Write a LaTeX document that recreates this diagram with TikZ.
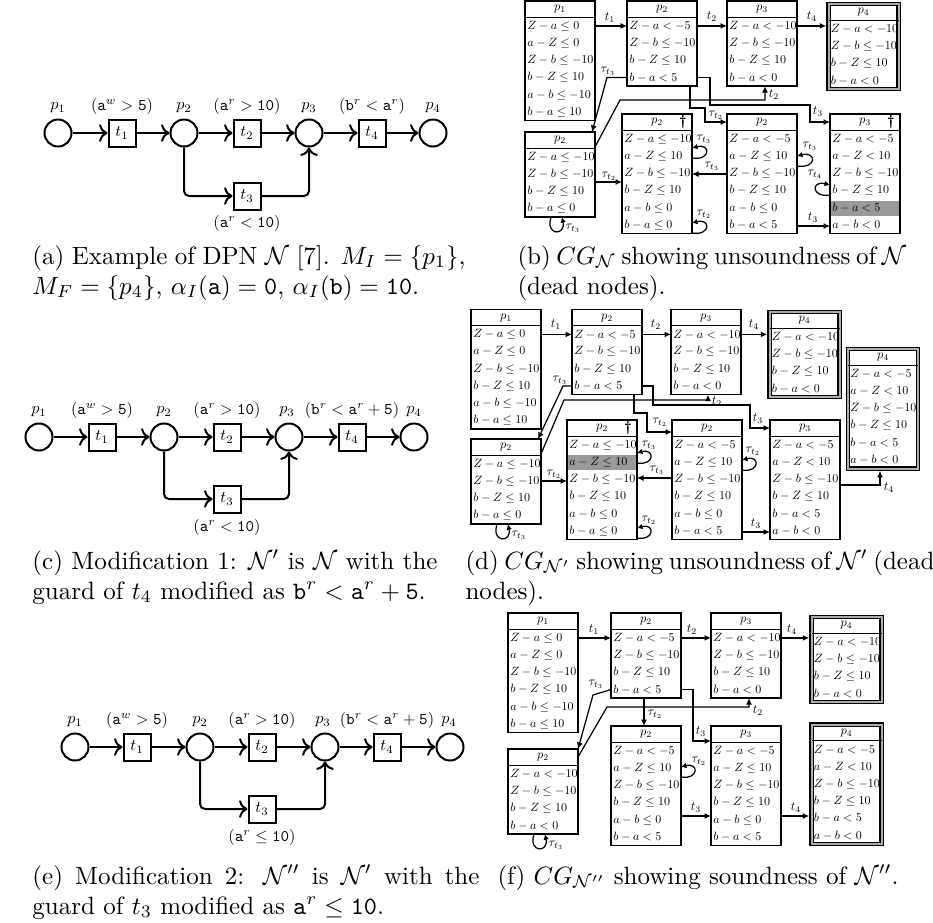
\documentclass[tikz,border=0pt]{standalone}
\usepackage{graphicx}
\usetikzlibrary{arrows.meta,calc,backgrounds}
\newcommand{\rs}[1]{\scalebox{0.48}{#1}}
\newcommand{\ts}[1]{\scalebox{0.5}{#1}}
\newcommand{\ps}[1]{\scalebox{0.65}{#1}}
\newcommand{\capfont}{\fontsize{10}{12}\selectfont}
\newcommand{\captwo}[3]{\parbox[t]{#1}{\makebox[#1][s]{#2}\\#3}}
\tikzset{
  cgframe/.style={draw, line width=0.5pt, anchor=north west, inner sep=0pt, outer sep=0pt, minimum width=28pt},
  fin/.style={double=gray!65, double distance=0.8pt},
  cgline/.style={line width=0.5pt},
  cgrow/.style={anchor=west, inner sep=0pt},
  cgtitle/.style={inner sep=0pt},
  cgarr/.style={line width=0.5pt, -{Latex[length=2.6pt,width=2.4pt]}},
  cgloop/.style={line width=0.5pt, -{Latex[length=2.2pt,width=2.2pt]}},
  elab/.style={inner sep=0pt},
  tlab/.style={inner sep=0pt},
  place/.style={circle, draw, line width=0.8pt, minimum size=10.8pt, inner sep=0pt},
  trans/.style={rectangle, draw, line width=0.8pt, minimum size=10.8pt, inner sep=0pt},
  pnlab/.style={inner sep=0pt},
  pnarr/.style={line width=0.8pt, ->, rounded corners=2pt},
  capt/.style={anchor=base west, inner sep=0pt, font=\capfont},
  hl/.style={fill=gray!80},
}
\newcommand{\cgb}[7][]{%
  \pgfmathsetmacro{\cgh}{(16.3+#5*17.2)*0.4}%
  \node[cgframe,minimum height=\cgh pt,#1] (#2) at (#3,#4) {};
  \draw[cgline] ([yshift=-6.52pt]#2.north west) -- ([yshift=-6.52pt]#2.north east);
  \node[cgtitle] (#2-t) at ([yshift=-3.26pt]#2.north) {\ts{#6}};
  \foreach \rowtxt [count=\i] in {#7} {%
    \pgfmathsetmacro{\ry}{-(16.3+(\i-0.5)*17.2)*0.4}%
    \node[cgrow] (#2-\i) at ([xshift=0.7pt,yshift=\ry pt]#2.north west) {\rs{\rowtxt}};
  }%
}
\newcommand{\cgdag}[1]{\node[inner sep=0pt] (#1-dag) at ([xshift=-3.6pt,yshift=-3.26pt]#1.north east) {\scalebox{0.6}{\bfseries\textdagger}};}
\newcommand{\cghl}[2]{\begin{scope}[on background layer]\fill[hl] ($(#1.north west)+(1.3,16.3+#2*17.2-15.7)$) rectangle ($(#1.north east)+(-1.3,16.3+#2*17.2-0.5)$);\end{scope}}
\begin{document}
\begin{tikzpicture}[x=0.4pt,y=-0.4pt]
\useasboundingbox (0,0) rectangle (933,922);

% ================= (a) =================
\node[place] (a1) at (58,133) {};
\node[trans] (at1) at (122,133) {\ps{$t_1$}};
\node[place] (a2) at (184,133) {};
\node[trans] (at2) at (247,133) {\ps{$t_2$}};
\node[place] (a3) at (309,133) {};
\node[trans] (at4) at (372,133) {\ps{$t_4$}};
\node[place] (a4) at (433,133) {};
\node[trans] (at3) at (247,196) {\ps{$t_3$}};
\node[pnlab] (a1l) at (58,108) {\ps{$p_1$}};
\node[pnlab] (a2l) at (184,108) {\ps{$p_2$}};
\node[pnlab] (a3l) at (309,108) {\ps{$p_3$}};
\node[pnlab] (a4l) at (433,108) {\ps{$p_4$}};
\node[pnlab] (ag1) at (122,106) {\ps{$(\mathtt{a}^w>\mathtt{5})$}};
\node[pnlab] (ag2) at (247,106) {\ps{$(\mathtt{a}^r>\mathtt{10})$}};
\node[pnlab] (ag4) at (372,106) {\ps{$(\mathtt{b}^r<\mathtt{a}^r)$}};
\node[pnlab] (ag3) at (247,223) {\ps{$(\mathtt{a}^r<\mathtt{10})$}};
\draw[pnarr] (a1) -- (at1);
\draw[pnarr] (at1) -- (a2);
\draw[pnarr] (a2) -- (at2);
\draw[pnarr] (at2) -- (a3);
\draw[pnarr] (a3) -- (at4);
\draw[pnarr] (at4) -- (a4);
\draw[pnarr] (a2) |- (at3);
\draw[pnarr] (at3) -| (a3);
\node[capt] (capa) at (32,264) {\captwo{173.2pt}{(a) Example of DPN $\mathcal{N}$ [7]. $M_I=\{p_1\}$,}{$M_F=\{p_4\}$, $\alpha_I(\mathtt{a})=\mathtt{0}$, $\alpha_I(\mathtt{b})=\mathtt{10}$.}};

% ================= (b) =================
\cgb{bp1}{525}{1}{6}{$p_1$}{$Z-a\le 0$,$a-Z\le 0$,$Z-b\le -10$,$b-Z\le 10$,$a-b\le -10$,$b-a\le 10$}
\cgb{bp2}{627}{1}{4}{$p_2$}{$Z-a<-5$,$Z-b\le -10$,$b-Z\le 10$,$b-a<5$}
\cgb{bp3}{727}{1}{4}{$p_3$}{$Z-a<-10$,$Z-b\le -10$,$b-Z\le 10$,$b-a<0$}
\cgb[fin]{bp4}{828.5}{4}{4}{$p_4$}{$Z-a<-10$,$Z-b\le -10$,$b-Z\le 10$,$b-a<0$}
\cgb{bq2}{525}{132}{4}{$p_2$}{$Z-a\le -10$,$Z-b\le -10$,$b-Z\le 10$,$b-a\le 0$}
\cgb{bd2}{622}{114}{6}{$p_2$}{$Z-a\le -10$,$a-Z\le 10$,$Z-b\le -10$,$b-Z\le 10$,$a-b\le 0$,$b-a\le 0$}
\cgb{bm2}{727}{114}{6}{$p_2$}{$Z-a<-5$,$a-Z\le 10$,$Z-b\le -10$,$b-Z\le 10$,$a-b\le 0$,$b-a<5$}
\cgb{bd3}{830}{114}{6}{$p_3$}{$Z-a<-5$,$a-Z<10$,$Z-b\le -10$,$b-Z\le 10$,$b-a<5$,$a-b<0$}
\cghl{bd3}{5}
\cgdag{bd2}
\cgdag{bd3}
\draw[cgarr] (bp1-1 -| bp1.east) -- (bp1-1 -| bp2.west);
\node[elab] (bl1) at (610,18) {\ts{$t_1$}};
\draw[cgarr] (bp2-1 -| bp2.east) -- (bp2-1 -| bp3.west);
\node[elab] (bl2) at (712,17) {\ts{$t_2$}};
\draw[cgarr, shorten >=0.9pt] (bp3-1 -| bp3.east) -- (bp3-1 -| bp4.west);
\node[elab] (bl3) at (812,17) {\ts{$t_4$}};
\draw[cgarr] (690,0 |- bp2.south) -- (690,108) -- (705,108) -- (705,122) -- (bm2.west |- 0,122);
\node[tlab] (bl4) at (716,115) {\ts{$\tau_{t_2}$}};
\draw[cgarr] (bp2-4 -| bp2.east) -- (710,0 |- bp2-4) -- (710,105) -- (810,105) -- (810,122) -- (bd3.west |- 0,122);
\node[elab] (bl5) at (818,112) {\ts{$t_3$}};
\draw[cgarr] (bq2.east |- 0,147) -- (620,100) -- (765,100) -- (765,0 |- bp3.south);
\node[elab] (bl6) at (774,95) {\ts{$t_2$}};
\draw[cgarr] (bp2-4 -| bp2.west) -- (607,0 |- bp2-4) -- ($(bq2.north east)+(-3,0)$);
\node[tlab] (bl7) at (608,71) {\ts{$\tau_{t_3}$}};
\draw[cgarr] (bq2.east |- 0,182) -- (bd2.west |- 0,182);
\node[tlab] (bl8) at (609,176) {\ts{$\tau_{t_2}$}};
\draw[cgarr] (bm2.west |- 0,174) -- (bd2.east |- 0,174);
\node[tlab] (bl9) at (712,166) {\ts{$\tau_{t_3}$}};
\draw[cgarr] (bm2.east |- 0,226) -- (bd3.west |- 0,226);
\node[elab] (bl10) at (813,218) {\ts{$t_3$}};
\draw[cgloop] (551,0 |- bq2.south) .. controls (545,236) and (566,236) .. (562,0 |- bq2.south);
\node[tlab] (bl11) at (573,228) {\ts{$\tau_{t_3}$}};
\draw[cgloop] (bd2.east |- 0,158) .. controls (711,161) and (711,143) .. (bd2.east |- 0,148);
\node[tlab] (bl12) at (704,139) {\ts{$\tau_{t_3}$}};
\draw[cgloop] (bd2.east |- 0,233) .. controls (711,236) and (711,218) .. (bd2.east |- 0,223);
\node[tlab] (bl13) at (704,214) {\ts{$\tau_{t_2}$}};
\draw[cgloop] (bm2.east |- 0,166) .. controls (817,169) and (817,151) .. (bm2.east |- 0,156);
\node[tlab] (bl14) at (810,146) {\ts{$\tau_{t_3}$}};
\draw[cgloop] (bd3.west |- 0,195) .. controls (811,198) and (811,180) .. (bd3.west |- 0,185);
\node[tlab] (bl15) at (815,174) {\ts{$\tau_{t_4}$}};
\node[capt] (capb) at (517,264) {\captwo{155.2pt}{(b) $CG_{\mathcal{N}}$ showing unsoundness of $\mathcal{N}$}{(dead nodes).}};

% ================= (c) =================
\node[place] (c1) at (39,437) {};
\node[trans] (ct1) at (102,437) {\ps{$t_1$}};
\node[place] (c2) at (164,437) {};
\node[trans] (ct2) at (227,437) {\ps{$t_2$}};
\node[place] (c3) at (289,437) {};
\node[trans] (ct4) at (352,437) {\ps{$t_4$}};
\node[place] (c4) at (414,437) {};
\node[trans] (ct3) at (227,499) {\ps{$t_3$}};
\node[pnlab] (c1l) at (39,412) {\ps{$p_1$}};
\node[pnlab] (c2l) at (164,412) {\ps{$p_2$}};
\node[pnlab] (c3l) at (287,412) {\ps{$p_3$}};
\node[pnlab] (c4l) at (414,412) {\ps{$p_4$}};
\node[pnlab] (cg1) at (102,410) {\ps{$(\mathtt{a}^w>\mathtt{5})$}};
\node[pnlab] (cg2) at (227,410) {\ps{$(\mathtt{a}^r>\mathtt{10})$}};
\node[pnlab] (cg4) at (352,410) {\ps{$(\mathtt{b}^r<\mathtt{a}^r+\mathtt{5})$}};
\node[pnlab] (cg3) at (227,527) {\ps{$(\mathtt{a}^r<\mathtt{10})$}};
\draw[pnarr] (c1) -- (ct1);
\draw[pnarr] (ct1) -- (c2);
\draw[pnarr] (c2) -- (ct2);
\draw[pnarr] (ct2) -- (c3);
\draw[pnarr] (c3) -- (ct4);
\draw[pnarr] (ct4) -- (c4);
\draw[pnarr] (c2) |- (ct3);
\draw[pnarr] (ct3) -| (c3);
\node[capt] (capc) at (32,569) {\captwo{162pt}{(c) Modification 1: $\mathcal{N}'$ is $\mathcal{N}$ with the}{guard of $t_4$ modified as $\mathtt{b}^r<\mathtt{a}^r+\mathtt{5}$.}};

% ================= (d) =================
\cgb{dp1}{471}{309.5}{6}{$p_1$}{$Z-a\le 0$,$a-Z\le 0$,$Z-b\le -10$,$b-Z\le 10$,$a-b\le -10$,$b-a\le 10$}
\cgb{dp2}{572}{309.5}{4}{$p_2$}{$Z-a<-5$,$Z-b\le -10$,$b-Z\le 10$,$b-a<5$}
\cgb{dp3}{671}{309.5}{4}{$p_3$}{$Z-a<-10$,$Z-b\le -10$,$b-Z\le 10$,$b-a<0$}
\cgb[fin]{dp4}{769.5}{312}{4}{$p_4$}{$Z-a<-10$,$Z-b\le -10$,$b-Z\le 10$,$b-a<0$}
\cgb[fin]{dfp4}{848}{349}{6}{$p_4$}{$Z-a<-5$,$a-Z<10$,$Z-b\le -10$,$b-Z\le 10$,$b-a<5$,$a-b<0$}
\cgb{dq2}{471}{439}{4}{$p_2$}{$Z-a\le -10$,$Z-b\le -10$,$b-Z\le 10$,$b-a\le 0$}
\cgb{dd2}{567}{420}{6}{$p_2$}{$Z-a\le -10$,$a-Z\le 10$,$Z-b\le -10$,$b-Z\le 10$,$a-b\le 0$,$b-a\le 0$}
\cghl{dd2}{2}
\cgb{dm2}{672}{420}{6}{$p_2$}{$Z-a<-5$,$a-Z\le 10$,$Z-b\le -10$,$b-Z\le 10$,$a-b\le 0$,$b-a<5$}
\cgb{dp3b}{770}{420}{6}{$p_3$}{$Z-a<-5$,$a-Z<10$,$Z-b\le -10$,$b-Z\le 10$,$b-a<5$,$a-b<0$}
\cgdag{dd2}
\draw[cgarr] (dp1-1 -| dp1.east) -- (dp1-1 -| dp2.west);
\node[elab] (dl1) at (556,325) {\ts{$t_1$}};
\draw[cgarr] (dp2-1 -| dp2.east) -- (dp2-1 -| dp3.west);
\node[elab] (dl2) at (656,325) {\ts{$t_2$}};
\draw[cgarr, shorten >=0.9pt] (dp3-1 -| dp3.east) -- (dp3-1 -| dp4.west);
\node[elab] (dl3) at (754,325) {\ts{$t_4$}};
\draw[cgarr] (634,0 |- dp2.south) -- (634,413) -- (647,413) -- (647,432) -- (dm2.west |- 0,432);
\node[tlab] (dl4) at (660,422) {\ts{$\tau_{t_2}$}};
\draw[cgarr] (dp2-4 -| dp2.east) -- (653,0 |- dp2-4) -- (653,405) -- (750,405) -- (750,428) -- (dp3b.west |- 0,428);
\node[elab] (dl5) at (758,419) {\ts{$t_3$}};
\draw[cgarr] (dq2.east |- 0,454) -- (564,400) -- (708,400) -- (708,0 |- dp3.south);
\node[elab] (dl6) at (717,402) {\ts{$t_2$}};
\draw[cgarr] (dp2-4 -| dp2.west) -- (563,0 |- dp2-4) -- ($(dq2.north east)+(-3,0)$);
\node[tlab] (dl7) at (560,380) {\ts{$\tau_{t_3}$}};
\draw[cgarr] (dq2.east |- 0,481) -- (dd2.west |- 0,481);
\node[tlab] (dl8) at (554,474) {\ts{$\tau_{t_2}$}};
\draw[cgarr] (dm2.west |- 0,478) -- (dd2.east |- 0,478);
\node[tlab] (dl9) at (657,470) {\ts{$\tau_{t_3}$}};
\draw[cgarr] (dm2.east |- 0,532) -- (dp3b.west |- 0,532);
\node[elab] (dl10) at (756,524) {\ts{$t_3$}};
\draw[cgarr, shorten >=0.9pt] (dp3b.east |- 0,485) -- (880,485) -- (880,0 |- dfp4.south);
\node[elab] (dl11) at (889,488) {\ts{$t_4$}};
\draw[cgloop] (497,0 |- dq2.south) .. controls (491,543) and (512,543) .. (508,0 |- dq2.south);
\node[tlab] (dl12) at (519,535) {\ts{$\tau_{t_3}$}};
\draw[cgloop] (dd2.east |- 0,463) .. controls (655,466) and (655,448) .. (dd2.east |- 0,453);
\node[tlab] (dl13) at (649,445) {\ts{$\tau_{t_3}$}};
\draw[cgloop] (dd2.east |- 0,538) .. controls (655,541) and (655,523) .. (dd2.east |- 0,528);
\node[tlab] (dl14) at (649,520) {\ts{$\tau_{t_2}$}};
\draw[cgloop] (dm2.east |- 0,470) .. controls (760,473) and (760,455) .. (dm2.east |- 0,460);
\node[tlab] (dl15) at (753,451) {\ts{$\tau_{t_2}$}};
\node[capt] (capd) at (465,569) {\captwo{186pt}{(d) $CG_{\mathcal{N}'}$ showing unsoundness of $\mathcal{N}'$ (dead}{nodes).}};

% ================= (e) =================
\node[place] (e1) at (75,747) {};
\node[trans] (et1) at (137,747) {\ps{$t_1$}};
\node[place] (e2) at (200,747) {};
\node[trans] (et2) at (262,747) {\ps{$t_2$}};
\node[place] (e3) at (325,747) {};
\node[trans] (et4) at (387,747) {\ps{$t_4$}};
\node[place] (e4) at (450,747) {};
\node[trans] (et3) at (262,809) {\ps{$t_3$}};
\node[pnlab] (e1l) at (75,722) {\ps{$p_1$}};
\node[pnlab] (e2l) at (200,722) {\ps{$p_2$}};
\node[pnlab] (e3l) at (323,722) {\ps{$p_3$}};
\node[pnlab] (e4l) at (449,722) {\ps{$p_4$}};
\node[pnlab] (eg1) at (137,720) {\ps{$(\mathtt{a}^w>\mathtt{5})$}};
\node[pnlab] (eg2) at (262,720) {\ps{$(\mathtt{a}^r>\mathtt{10})$}};
\node[pnlab] (eg4) at (387,720) {\ps{$(\mathtt{b}^r<\mathtt{a}^r+\mathtt{5})$}};
\node[pnlab] (eg3) at (262,837) {\ps{$(\mathtt{a}^r\le\mathtt{10})$}};
\draw[pnarr] (e1) -- (et1);
\draw[pnarr] (et1) -- (e2);
\draw[pnarr] (e2) -- (et2);
\draw[pnarr] (et2) -- (e3);
\draw[pnarr] (e3) -- (et4);
\draw[pnarr] (et4) -- (e4);
\draw[pnarr] (e2) |- (et3);
\draw[pnarr] (et3) -| (e3);
\node[capt] (cape) at (32,884) {\captwo{178.8pt}{(e) Modification 2: $\mathcal{N}''$ is $\mathcal{N}'$ with the}{guard of $t_3$ modified as $\mathtt{a}^r\le\mathtt{10}$.}};

% ================= (f) =================
\cgb{fp1}{508}{613}{6}{$p_1$}{$Z-a\le 0$,$a-Z\le 0$,$Z-b\le -10$,$b-Z\le 10$,$a-b\le -10$,$b-a\le 10$}
\cgb{fp2}{611}{613}{4}{$p_2$}{$Z-a<-5$,$Z-b\le -10$,$b-Z\le 10$,$b-a<5$}
\cgb{fp3}{711}{613}{4}{$p_3$}{$Z-a<-10$,$Z-b\le -10$,$b-Z\le 10$,$b-a<0$}
\cgb[fin]{fp4}{811.5}{617}{4}{$p_4$}{$Z-a<-10$,$Z-b\le -10$,$b-Z\le 10$,$b-a<0$}
\cgb{fq2}{508}{749}{4}{$p_2$}{$Z-a<-10$,$Z-b\le -10$,$b-Z\le 10$,$b-a<0$}
\cgb{fm2}{611}{726}{6}{$p_2$}{$Z-a<-5$,$a-Z\le 10$,$Z-b\le -10$,$b-Z\le 10$,$a-b\le 0$,$b-a<5$}
\cgb{fp3b}{711}{726}{6}{$p_3$}{$Z-a<-5$,$a-Z\le 10$,$Z-b\le -10$,$b-Z\le 10$,$a-b\le 0$,$b-a<5$}
\cgb[fin]{ffp4}{811.5}{724.5}{6}{$p_4$}{$Z-a<-5$,$a-Z<10$,$Z-b\le -10$,$b-Z\le 10$,$b-a<5$,$a-b<0$}
\draw[cgarr] (fp1-1 -| fp1.east) -- (fp1-1 -| fp2.west);
\node[elab] (fl1) at (594,630) {\ts{$t_1$}};
\draw[cgarr] (fp2-1 -| fp2.east) -- (fp2-1 -| fp3.west);
\node[elab] (fl2) at (692,630) {\ts{$t_2$}};
\draw[cgarr, shorten >=0.9pt] (fp3-1 -| fp3.east) -- (fp3-1 -| fp4.west);
\node[elab] (fl3) at (792,630) {\ts{$t_4$}};
\draw[cgarr] (fp2-4 -| fp2.west) -- (593,695) -- (fq2.north east);
\node[tlab] (fl4) at (596,684) {\ts{$\tau_{t_3}$}};
\draw[cgarr] (fq2.east |- 0,757) -- (607,707) -- (749,707) -- (749,0 |- fp3.south);
\node[elab] (fl5) at (758,711) {\ts{$t_2$}};
\draw[cgarr] (644,0 |- fp2.south) -- (644,0 |- fm2.north);
\node[tlab] (fl6) at (655,714) {\ts{$\tau_{t_2}$}};
\draw[cgarr] (fp2-4 -| fp2.east) -- (693,0 |- fp2-4) -- (693,741) -- (fp3b.west |- 0,741);
\node[elab] (fl7) at (701,732) {\ts{$t_3$}};
\draw[cgarr] (fm2.east |- 0,816) -- (fp3b.west |- 0,816);
\node[elab] (fl8) at (696,808) {\ts{$t_3$}};
\draw[cgarr, shorten >=0.9pt] (fp3b.east |- 0,816) -- (ffp4.west |- 0,816);
\node[elab] (fl9) at (796,808) {\ts{$t_4$}};
\draw[cgloop] (fm2.east |- 0,777) .. controls (699,780) and (699,762) .. (fm2.east |- 0,767);
\node[tlab] (fl10) at (699,761) {\ts{$\tau_{t_2}$}};
\draw[cgloop] (534,0 |- fq2.south) .. controls (528,853) and (549,853) .. (545,0 |- fq2.south);
\node[tlab] (fl11) at (556,845) {\ts{$\tau_{t_3}$}};
\node[capt] (capf) at (497,884) {(f) $CG_{\mathcal{N}''}$ showing soundness of $\mathcal{N}''$.};
\end{tikzpicture}
\end{document}
